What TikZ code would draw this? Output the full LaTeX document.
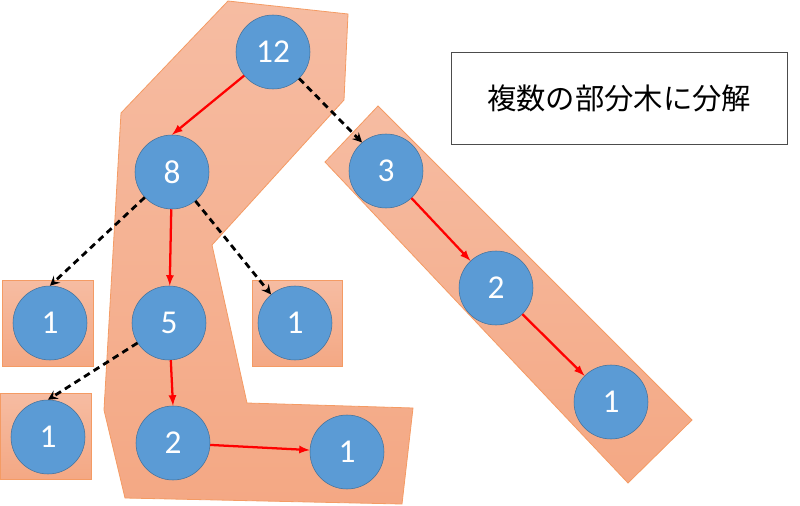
\documentclass[tikz,border=0pt]{standalone}
\usepackage{fontspec}
\setmainfont{Carlito}
\newfontfamily\jpfont{Noto Sans CJK JP}
\definecolor{nodeblue}{RGB}{91,155,213}
\definecolor{nodeedge}{RGB}{65,113,156}
\definecolor{parttop}{RGB}{246,188,162}
\definecolor{partbot}{RGB}{244,168,132}
\definecolor{partedge}{RGB}{244,155,100}
\tikzset{
  num/.style={circle, fill=nodeblue, draw=nodeedge, minimum size=55.5pt, inner sep=0pt,
    text=white, font=\fontsize{25}{30}\selectfont},
  part/.style={top color=parttop, bottom color=partbot, draw=partedge, line width=0.6pt},
  keep/.style={->, red, line width=1.7pt},
  cut/.style={->, >=stealth, black, line width=2.1pt, dash pattern=on 5pt off 3.5pt}
}
\begin{document}
\begin{tikzpicture}[x=0.75pt, y=-0.75pt, >=latex]
    % 1. Vung hien thi
    \useasboundingbox (0, 0) rectangle (800, 506);

    % 2. Cac phan cay (vung to mau)
    \draw[part] (228, 1) -- (348, 14) -- (344, 100) -- (212, 245) -- (247, 403)
        -- (413, 408) -- (402, 504) -- (125, 498) -- (104, 410) -- (121, 113) -- cycle;
    \draw[part] (378, 106) -- (692, 420) -- (628, 483) -- (325, 162) -- cycle;
    \draw[part] (2, 280) rectangle (93, 366);
    \draw[part] (252, 280) rectangle (342, 366);
    \draw[part] (0, 393) rectangle (91, 479);

    % 3. Cac nut
    \node[num] (r)   at (273, 52)  {12};
    \node[num] (a)   at (172, 172) {8};
    \node[num] (b)   at (386, 171) {3};
    \node[num] (aa)  at (50, 323)  {1};
    \node[num] (ab)  at (169, 323) {5};
    \node[num] (ac)  at (295, 323) {1};
    \node[num] (ba)  at (496, 288) {2};
    \node[num] (bb)  at (611, 402) {1};
    \node[num] (aba) at (48, 437)  {1};
    \node[num] (abb) at (173, 443) {2};
    \node[num] (abc) at (347, 452) {1};

    % 4. Canh giu lai (do) va canh cat (net dut)
    \draw[keep] (r) -- (a.north);
    \draw[keep] (a) -- (ab);
    \draw[keep] (ab) -- (abb.north);
    \draw[keep] (abb) -- (abc);
    \draw[keep] (b) -- (ba);
    \draw[keep] (ba) -- (bb);
    \draw[cut] (r) -- (b.130);
    \draw[cut] (a) -- (aa.north);
    \draw[cut] (a) -- (ac.130);
    \draw[cut] (ab) -- (aba.north);

    % 5. Chu thich
    \node[draw=black!70, line width=0.6pt, minimum width=252pt, minimum height=69pt,
        font=\jpfont\fontsize{22}{26}\selectfont] (title) at (619, 98) {複数の部分木に分解};
\end{tikzpicture}
\end{document}
